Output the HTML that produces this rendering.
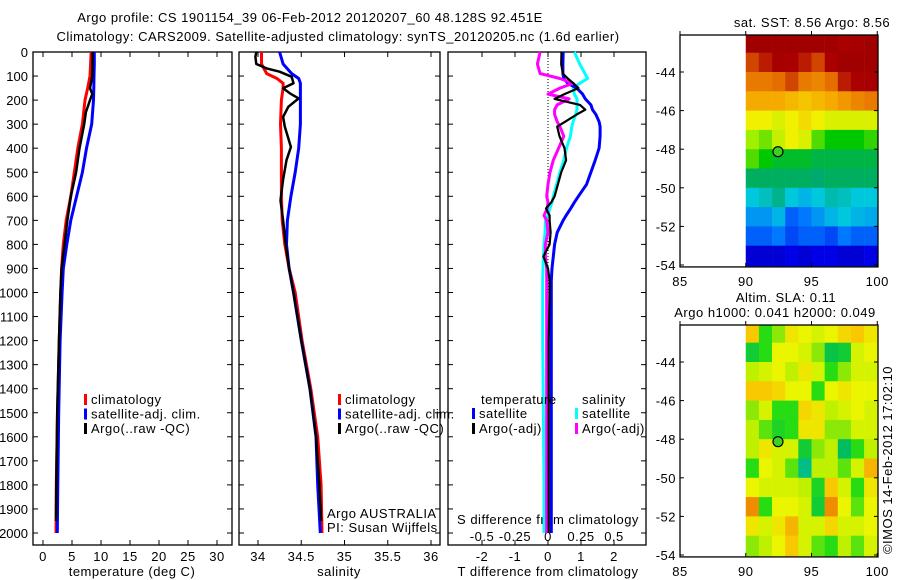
<!DOCTYPE html>
<html><head><meta charset="utf-8"><style>
body{margin:0;background:#fff}
svg{display:block;font-family:"Liberation Sans",sans-serif;font-size:13px;letter-spacing:0.5px}
.nl{letter-spacing:0}
</style></head><body>
<svg id="fig" width="900" height="580" viewBox="0 0 900 580">
<rect width="900" height="580" fill="#fff"/>
<text x="310" y="22" text-anchor="middle">Argo profile: CS 1901154_39 06-Feb-2012 20120207_60 48.128S 92.451E</text>
<text x="338" y="41" text-anchor="middle">Climatology: CARS2009. Satellite-adjusted climatology: synTS_20120205.nc (1.6d earlier)</text>
<g id="g"></g>
</svg>
<script>
// ---- data ----
const depthGrid = [0,50,100,150,200,300,400,500,600,700,800,900,1000,1200,1500,1800,2000];
const tempClim = [8.3,8.2,8.1,7.7,7.24,6.8,6.0,5.4,4.8,4.0,3.5,3.2,3.05,2.8,2.5,2.3,2.24];
const tempSat  = [8.85,8.85,8.8,8.75,8.7,8.4,7.5,6.8,5.8,4.8,4.1,3.5,3.3,2.95,2.7,2.55,2.47];
const tempArgoDepth = [0,100,150,175,200,250,300,400,500,600,700,800,900,1000,1200,1500,1800,1950];
const tempArgo = [8.56,8.5,8.1,8.5,8.1,7.4,7.1,6.3,5.7,4.8,4.2,3.7,3.2,3.0,2.75,2.45,2.3,2.25];

const salDepth = [0,50,90,110,130,150,200,300,400,500,600,700,800,900,1000,1200,1400,1600,1800,2000];
const salClim = [34.04,34.04,34.1,34.22,34.29,34.29,34.27,34.26,34.27,34.27,34.27,34.28,34.31,34.36,34.43,34.51,34.61,34.69,34.73,34.74];
const salSat  = [34.25,34.29,34.39,34.47,34.49,34.49,34.49,34.49,34.47,34.43,34.38,34.34,34.33,34.36,34.41,34.5,34.6,34.67,34.69,34.72];
const salArgoDepth = [0,20,50,68,82,103,130,151,172,193,228,270,310,395,450,530,617,700,800,900,1000,1200,1400,1600,1800,1950];
const salArgo = [33.98,33.97,33.98,34.1,34.25,34.39,34.41,34.29,34.37,34.47,34.35,34.29,34.31,34.38,34.33,34.29,34.26,34.29,34.32,34.36,34.41,34.5,34.6,34.67,34.71,34.73];

const diffDepth = [0,50,90,110,130,150,175,195,220,240,260,290,310,350,400,450,500,550,600,625,650,680,700,750,800,850,900,950,1000,1200,1500,1800,2000];
const dTsat = [0.46,0.45,0.45,0.48,0.6,0.87,1.05,1.13,1.3,1.35,1.45,1.55,1.58,1.58,1.55,1.43,1.3,1.17,0.92,0.8,0.69,0.55,0.46,0.28,0.2,0.16,0.12,0.1,0.1,0.1,0.1,0.1,0.1];
const dTargo = [0.41,0.4,0.45,0.6,0.77,0.92,0.5,0.2,0.97,1.13,0.87,0.52,0.28,0.35,0.5,0.55,0.4,0.3,0.2,0.1,-0.06,0.05,0.05,0.08,0.05,-0.14,0.0,0.05,0.05,0.02,0.02,0.02,0.02];
const dSsat = [0.2,0.24,0.28,0.3,0.24,0.19,0.2,0.22,0.22,0.22,0.21,0.19,0.18,0.17,0.14,0.12,0.09,0.066,0.04,0.03,0.015,0.0,-0.02,-0.022,-0.03,-0.035,-0.038,-0.04,-0.04,-0.04,-0.035,-0.03,-0.03];
const dSargo = [-0.06,-0.08,-0.06,0.09,0.19,0.09,0.0,0.16,0.07,0.05,0.05,0.07,0.09,0.12,0.08,0.04,0.015,0.0,-0.01,0.0,-0.005,-0.03,-0.01,0.0,-0.02,-0.02,-0.01,-0.01,-0.01,-0.01,-0.01,-0.01,-0.01];

const depthTicks = [0,100,200,300,400,500,600,700,800,900,1000,1100,1200,1300,1400,1500,1600,1700,1800,1900,2000];
const tempTicks = [0,5,10,15,20,25,30];
const salTicks = [34,34.5,35,35.5,36];
const salTickLabels = ["34","34.5","35","35.5","36"];
const dTTicks = [-2,-1,0,1,2];
const dSTicks = [-0.5,-0.25,0,0.25,0.5];
const dSTickLabels = ["-0.5","-0.25","0","0.25","0.5"];
const latTicks = [-44,-46,-48,-50,-52,-54];
const lonTicks = [85,90,95,100];

const sstGrid = [
[0.95,0.95,0.95,0.95,0.95,0.95,0.95,0.9,0.92,0.95],
[0.85,0.88,0.92,0.9,0.88,0.85,0.9,0.95,0.95,0.95],
[0.8,0.8,0.82,0.85,0.8,0.78,0.82,0.88,0.9,0.92],
[0.72,0.72,0.72,0.7,0.68,0.7,0.72,0.75,0.78,0.8],
[0.62,0.62,0.6,0.62,0.65,0.62,0.6,0.6,0.6,0.6],
[0.55,0.52,0.58,0.62,0.6,0.5,0.45,0.45,0.45,0.48],
[0.5,0.45,0.42,0.42,0.42,0.4,0.4,0.4,0.4,0.4],
[0.38,0.38,0.38,0.38,0.38,0.37,0.38,0.38,0.38,0.38],
[0.3,0.32,0.35,0.3,0.28,0.3,0.33,0.32,0.3,0.3],
[0.25,0.25,0.28,0.2,0.22,0.25,0.28,0.3,0.28,0.27],
[0.2,0.2,0.22,0.18,0.2,0.2,0.18,0.22,0.2,0.2],
[0.1,0.1,0.1,0.12,0.1,0.12,0.12,0.1,0.1,0.12]];
const slaGrid = [
[0.7,0.3,0.4,0.6,0.55,0.5,0.55,0.65,0.7,0.6],
[0.2,0.3,0.55,0.55,0.5,0.4,0.15,0.2,0.5,0.55],
[0.45,0.5,0.55,0.45,0.6,0.5,0.3,0.4,0.5,0.5],
[0.7,0.7,0.65,0.55,0.55,0.3,0.55,0.6,0.55,0.55],
[0.4,0.5,0.3,0.3,0.65,0.6,0.45,0.5,0.55,0.5],
[0.45,0.35,0.25,0.3,0.6,0.6,0.4,0.4,0.5,0.5],
[0.45,0.6,0.5,0.5,0.2,0.4,0.45,0.1,0.3,0.45],
[0.3,0.55,0.5,0.35,0.05,0.45,0.45,0.35,0.5,0.75],
[0.55,0.5,0.5,0.5,0.45,0.25,0.7,0.5,0.3,0.6],
[0.85,0.3,0.55,0.55,0.5,0.2,0.85,0.55,0.35,0.55],
[0.6,0.5,0.6,0.75,0.5,0.5,0.65,0.5,0.5,0.55],
[0.4,0.45,0.55,0.7,0.5,0.35,0.3,0.45,0.35,0.5]];
const argoLon = 92.451, argoLat = -48.128;

const NS="http://www.w3.org/2000/svg";
const G=document.getElementById('g');
function mk(t,a,p){const e=document.createElementNS(NS,t);for(const k in a)e.setAttribute(k,a[k]);(p||G).appendChild(e);return e;}
function txt(x,y,s,anchor,p){const e=mk('text',{x:x,y:y,'text-anchor':anchor||'start'},p);e.textContent=s;return e;}

const yTop=52,yBot=545;
const yD=d=>52+d*0.2405;
const panels=[{x0:33,x1:232},{x0:239,x1:440},{x0:448,x1:646}];
const xT=t=>43+t*5.8;
const xS=s=>258+(s-34)*86.5;
const xDT=v=>548+v*33;
const xDS=v=>548+v*132;

function line(dep,vals,sx,color,w,name){
  const pts=dep.map((d,i)=>sx(vals[i]).toFixed(1)+','+yD(d).toFixed(1)).join(' ');
  const e=mk('polyline',{points:pts,fill:'none',stroke:color,'stroke-width':w,'stroke-linejoin':'round'});
  
  
}
function frame(p,name){
  const r=mk('rect',{x:p.x0,y:yTop,width:p.x1-p.x0,height:yBot-yTop,fill:'none',stroke:'#000','stroke-width':1.3});
  
  
  depthTicks.forEach(d=>{mk('line',{x1:p.x0,x2:p.x0+5,y1:yD(d),y2:yD(d),stroke:'#000'});mk('line',{x1:p.x1,x2:p.x1-5,y1:yD(d),y2:yD(d),stroke:'#000'});});
}
function xticks(vals,sx,labels,ly){
  vals.forEach((v,i)=>{const x=sx(v);mk('line',{x1:x,x2:x,y1:yBot,y2:yBot-5,stroke:'#000'});mk('line',{x1:x,x2:x,y1:yTop,y2:yTop+5,stroke:'#000'});
    if(ly){const t=txt(x,ly,labels[i],'middle');}});
}
frame(panels[0],'temperature-panel');
depthTicks.forEach(d=>{const t=txt(28,yD(d)+5,String(d),'end');t.setAttribute('class','nl');});
xticks(tempTicks,xT,tempTicks.map(String),561);
txt(132,576,'temperature (deg C)','middle');
line(depthGrid,tempClim,xT,'#f00',3,'temp-climatology-line');
line(depthGrid,tempSat,xT,'#00f',3,'temp-satellite-line');
line(tempArgoDepth,tempArgo,xT,'#000',2.5,'temp-argo-line');
frame(panels[1],'salinity-panel');
xticks(salTicks,xS,salTickLabels,561);
txt(339,576,'salinity','middle');
line(salDepth,salClim,xS,'#f00',3,'sal-climatology-line');
line(salDepth,salSat,xS,'#00f',3,'sal-satellite-line');
line(salArgoDepth,salArgo,xS,'#000',2.5,'sal-argo-line');
frame(panels[2],'difference-panel');
xticks(dTTicks,xDT,dTTicks.map(String),561);
dSTicks.forEach((v,i)=>{const t=txt(xDS(v),541,dSTickLabels[i],'middle');});
mk('line',{x1:548,x2:548,y1:yTop,y2:yD(1000),stroke:'#000','stroke-dasharray':'1,2'});
txt(548,524,'S difference from climatology','middle');
txt(548,576,'T difference from climatology','middle');
line(diffDepth,dSsat,xDS,'#0ff',3,'s-diff-satellite-line');
line(diffDepth,dTsat,xDT,'#00f',3,'t-diff-satellite-line');
line(diffDepth,dSargo,xDS,'#f0f',3,'s-diff-argo-line');
line(diffDepth,dTargo,xDT,'#000',2.2,'t-diff-argo-line');

function legItem(x,y,color,label,name){
  const g=mk('g',{});
  
  
  mk('rect',{x:x,y:y-10,width:3,height:11,fill:color},g);
  txt(x+7,y,label,'start',g);
}
[['#f00','climatology'],['#00f','satellite-adj. clim.'],['#000','Argo(..raw -QC)']].forEach((it,i)=>{
  legItem(84,404+i*14.5,it[0],it[1],'temp-legend-entry');
  legItem(338,404+i*14.5,it[0],it[1],'sal-legend-entry');
});
txt(481,404,'temperature');txt(582,404,'salinity');
legItem(472,418,'#00f','satellite','legend-t-satellite');
legItem(472,433,'#000','Argo(-adj)','legend-t-argo');
legItem(575,418,'#0ff','satellite','legend-s-satellite');
legItem(575,433,'#f0f','Argo(-adj)','legend-s-argo');
txt(327,518,'Argo AUSTRALIA');txt(327,532,'PI: Susan Wijffels');

const jetStops=[[0,[0,0,130]],[0.12,[0,0,230]],[0.22,[0,120,255]],[0.3,[0,200,220]],[0.37,[0,170,110]],[0.45,[0,200,0]],[0.55,[160,240,0]],[0.62,[240,240,0]],[0.72,[245,170,0]],[0.82,[230,110,0]],[0.9,[170,0,0]],[1,[150,0,0]]];
const slaStops=[[0,[0,190,170]],[0.12,[0,190,80]],[0.3,[40,220,20]],[0.45,[190,240,0]],[0.55,[235,245,0]],[0.7,[248,200,0]],[0.85,[240,140,0]],[1,[220,100,0]]];
function cmap(st,v){for(let i=1;i<st.length;i++){if(v<=st[i][0]){const a=st[i-1],b=st[i],f=(v-a[0])/(b[0]-a[0]);return 'rgb('+a[1].map((c,k)=>Math.round(c+(b[1][k]-c)*f)).join(',')+')';}}return 'rgb('+st[st.length-1][1].join(',')+')';}
function mapPanel(top,grid,stops,name){
  const bx0=680,bx1=878, lat0=-44, yl0=top+37, ppd=19.3;
  const xL=l=>680+(l-85)*13.15, yL=l=>yl0+(lat0-l)*ppd;
  const boxTop=top, boxBot=yL(-54.1);
  const g=mk('g',{});
  
  
  grid.forEach((row,r)=>row.forEach((v,c)=>{
    const y0=Math.max(boxTop,yL(-42-r)), y1=yL(-43-r)+(r==grid.length-1?1:0);
    const cell=mk('rect',{x:xL(90+c),y:y0,width:13.4,height:Math.min(y1,boxBot)-y0+0.4,fill:cmap(stops,v)},g);
    
    
  }));
  mk('rect',{x:bx0,y:boxTop,width:bx1-bx0,height:boxBot-boxTop,fill:'none',stroke:'#000','stroke-width':1.3},g);
  latTicks.forEach(l=>{mk('line',{x1:bx0,x2:bx0+4,y1:yL(l),y2:yL(l),stroke:'#000'},g);mk('line',{x1:bx1,x2:bx1-4,y1:yL(l),y2:yL(l),stroke:'#000'},g);
    const t=txt(676,yL(l)+5,String(l),'end',g);});
  lonTicks.forEach(l=>{mk('line',{x1:xL(l),x2:xL(l),y1:boxTop,y2:boxTop-4,stroke:'#000'},g);mk('line',{x1:xL(l),x2:xL(l),y1:boxBot,y2:boxBot-4,stroke:'#000'},g);
    const t=txt(xL(l),boxBot+19,String(l),'middle',g);});
  const m=mk('circle',{cx:xL(argoLon),cy:yL(argoLat),r:5,fill:'#40d020',stroke:'#000','stroke-width':1.2},g);
  
  
}
mapPanel(35,sstGrid,jetStops,'sst-map');
txt(812,27,'sat. SST: 8.56 Argo: 8.56','middle');
mapPanel(325,slaGrid,slaStops,'sla-map');
txt(786,302,'Altim. SLA: 0.11','middle');
txt(775,317,'Argo h1000: 0.041 h2000: 0.049','middle');
const cr=txt(0,0,'©IMOS 14-Feb-2012 17:02:10','middle');
cr.setAttribute('transform','translate(892,460) rotate(-90)');


</script>
</body></html>
